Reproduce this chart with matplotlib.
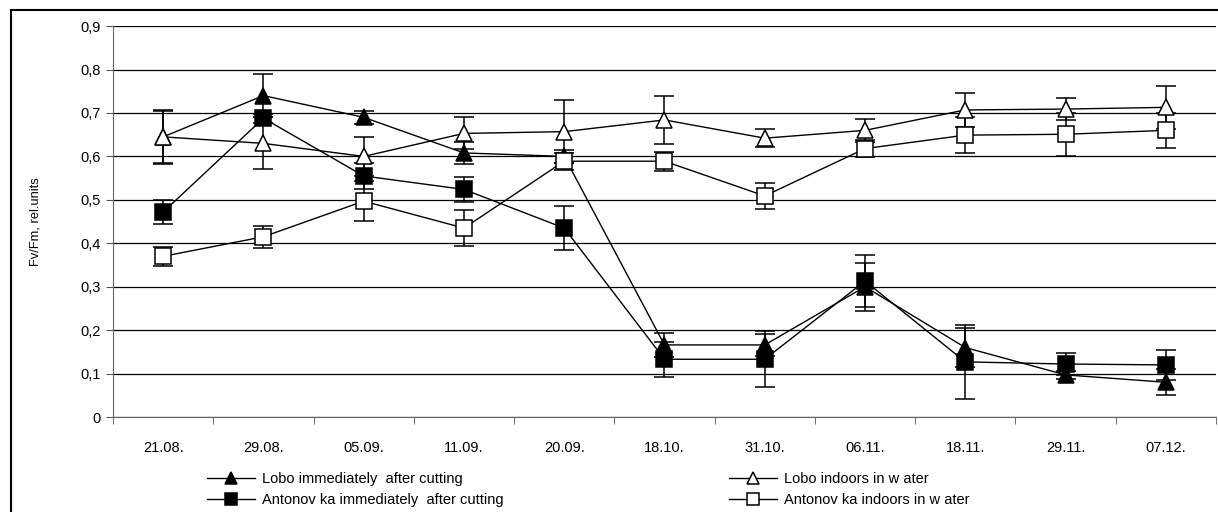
import numpy as np
import matplotlib
matplotlib.use('Agg')
import matplotlib.pyplot as plt
from matplotlib.patches import Rectangle

plt.rcParams['font.family'] = ['Liberation Sans', 'DejaVu Sans']

dates = ['21.08.', '29.08.', '05.09.', '11.09.', '20.09.', '18.10.',
         '31.10.', '06.11.', '18.11.', '29.11.', '07.12.']

lobo_cut = [0.645, 0.74, 0.69, 0.608, 0.60, 0.166, 0.166, 0.30, 0.16, 0.097, 0.08]
lobo_cut_err = [0.06, 0.05, 0.015, 0.025, 0.015, 0.027, 0.025, 0.055, 0.045, 0.01, 0.03]

anton_cut = [0.472, 0.688, 0.555, 0.524, 0.435, 0.133, 0.133, 0.313, 0.127, 0.122, 0.12]
anton_cut_err = [0.027, 0.01, 0.03, 0.028, 0.05, 0.04, 0.065, 0.06, 0.085, 0.025, 0.034]

lobo_water = [0.645, 0.63, 0.60, 0.653, 0.657, 0.684, 0.642, 0.66, 0.707, 0.709, 0.713]
lobo_water_err = [0.062, 0.06, 0.044, 0.037, 0.073, 0.055, 0.021, 0.026, 0.04, 0.025, 0.05]

anton_water = [0.37, 0.415, 0.497, 0.435, 0.589, 0.589, 0.509, 0.618, 0.649, 0.651, 0.66]
anton_water_err = [0.022, 0.025, 0.046, 0.042, 0.02, 0.022, 0.03, 0.02, 0.042, 0.05, 0.04]

labels = ['Lobo immediately  after cutting',
          'Antonov ka immediately  after cutting',
          'Lobo indoors in w ater',
          'Antonov ka indoors in w ater']

fig = plt.figure(figsize=(12.18, 5.12), dpi=100)
ax = fig.add_axes([0.0928, 0.1855, 0.9055, 0.7635])

x = np.arange(len(dates))
series = [
    (lobo_cut, lobo_cut_err, '^', 'black'),
    (anton_cut, anton_cut_err, 's', 'black'),
    (lobo_water, lobo_water_err, '^', 'white'),
    (anton_water, anton_water_err, 's', 'white'),
]
handles = []
for (vals, err, mk, fc), lab in zip(series, labels):
    ax.errorbar(x, vals, yerr=err, fmt='none', ecolor='black', elinewidth=1.1,
                capsize=7, capthick=1.1, zorder=2)
    h, = ax.plot(x, vals, color='black', lw=1.0, marker=mk, markersize=11,
                 markerfacecolor=fc, markeredgecolor='black', markeredgewidth=1.1,
                 label=lab, zorder=3)
    handles.append(h)

ax.set_xlim(-0.5, len(dates) - 0.5)
ax.set_ylim(0, 0.9)
ax.set_yticks(np.arange(0, 0.91, 0.1))
ax.set_yticklabels(['0'] + [('%.1f' % v).replace('.', ',') for v in np.arange(0.1, 0.91, 0.1)])
ax.set_xticks(x)
ax.set_xticklabels(dates)
ax.set_xticks(np.arange(-0.5, len(dates)), minor=True)
ax.tick_params(axis='x', which='major', length=0, pad=17, labelsize=10.5)
ax.tick_params(axis='x', which='minor', length=5, color='#555555')
ax.tick_params(axis='y', length=5, color='#555555', labelsize=10.5, pad=4)
ax.grid(axis='y', color='black', lw=0.9)
ax.set_axisbelow(True)
for s in ['top', 'right']:
    ax.spines[s].set_visible(False)
ax.spines['left'].set_color('#666666')
ax.spines['bottom'].set_color('#666666')
ax.set_ylabel('Fv/Fm, rel.units', fontsize=9.3, labelpad=28)

fig.legend(handles=handles, loc='center left', bbox_to_anchor=(0.170, 0.044), ncol=2,
           frameon=False, fontsize=10.5, handlelength=3.3, handletextpad=0.5,
           columnspacing=15.4, labelspacing=0.45, borderaxespad=0, borderpad=0,
           markerscale=0.8)

fig.patches.append(Rectangle((0.009, -0.05), 1.2, 1.0305, transform=fig.transFigure,
                             fill=False, edgecolor='black', lw=1.5, clip_on=False))

fig.savefig('out.png', dpi=100)
